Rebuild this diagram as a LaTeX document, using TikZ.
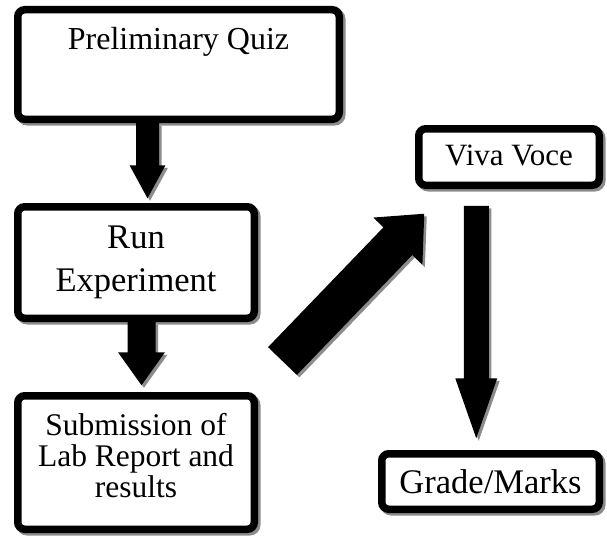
\documentclass[tikz,border=0pt]{standalone}
\usepackage{fontspec}
\setmainfont{Liberation Serif}
\usetikzlibrary{calc}
\newcommand{\setfs}[2]{\fontsize{#1}{#2}\selectfont}
\newcommand{\fatarrow}[5]{%
  \fill[arrowfill] ($(#1)!#3!90:(#2)$) -- ($(#2)!#5!(#1)!#3!-90:(#1)$)
    -- ($(#2)!#5!(#1)!#4!-90:(#1)$) -- (#2)
    -- ($(#2)!#5!(#1)!#4!90:(#1)$) -- ($(#2)!#5!(#1)!#3!90:(#1)$)
    -- ($(#1)!#3!-90:(#2)$) -- cycle;}
\tikzset{
  box/.style={draw=black, line width=7.5pt, rounded corners=7pt, fill=white,
    inner sep=0pt,
    preaction={draw=black!45, fill=black!45, transform canvas={shift={(2.5pt,-2.5pt)}}}},
  arrowfill/.style={fill=black,
    preaction={fill=black!45, transform canvas={shift={(2.5pt,-2.5pt)}}}}
}
\begin{document}
\begin{tikzpicture}[x=1pt,y=-1pt]
\fill[white] (0,0) rectangle (607,535);
\useasboundingbox (0,0) rectangle (607,535);

% boxes
\node[box, minimum width=321.5pt, minimum height=109.5pt, font=\setfs{32}{38},
      text height=22pt, text depth=51pt, inner ysep=18.25pt] (pq) at (178.5,64.5) {Preliminary Quiz};
\node[box, minimum width=236.5pt, minimum height=111.5pt, align=center,
      font=\setfs{34.5}{43}] (run) at (136,262.5) {Run\\Experiment};
\node[box, minimum width=236.5pt, minimum height=133.5pt, align=center,
      font=\setfs{31.5}{31}] (sub) at (136,462.5) {Submission of\\Lab Report and\\results\rule[-15pt]{0pt}{1pt}};
\node[box, minimum width=180.5pt, minimum height=56.5pt, font=\setfs{31}{37},
      text height=21pt, text depth=5pt] (viva) at (509,157) {Viva Voce};
\node[box, minimum width=217.5pt, minimum height=55.5pt, font=\setfs{34.5}{41}] (grade) at (490.5,481.5) {Grade/Marks};

% arrow end points
\coordinate (a1s) at ([xshift=-31pt]pq.south);
\coordinate (a1e) at ([xshift=11.5pt,yshift=4.75pt]run.north);
\coordinate (a2s) at ([xshift=5.5pt]run.south);
\coordinate (a2e) at ([xshift=5.5pt,yshift=6.75pt]sub.north);
\coordinate (a3s) at (282.5,361);
\coordinate (a3e) at ([xshift=9.25pt,yshift=-24.75pt]viva.south west);
\coordinate (a4s) at ([xshift=-32.75pt,yshift=-16.75pt]viva.south);
\coordinate (a4e) at ([xshift=-14.25pt,yshift=11.75pt]grade.north);

% arrows
\fatarrow{a1s}{a1e}{11.5pt}{18pt}{33pt}
\fatarrow{a2s}{a2e}{14pt}{23.5pt}{33pt}
\fatarrow{a3s}{a3e}{20pt}{34pt}{38pt}
\fatarrow{a4s}{a4e}{12.5pt}{21pt}{60pt}
\end{tikzpicture}
\end{document}
